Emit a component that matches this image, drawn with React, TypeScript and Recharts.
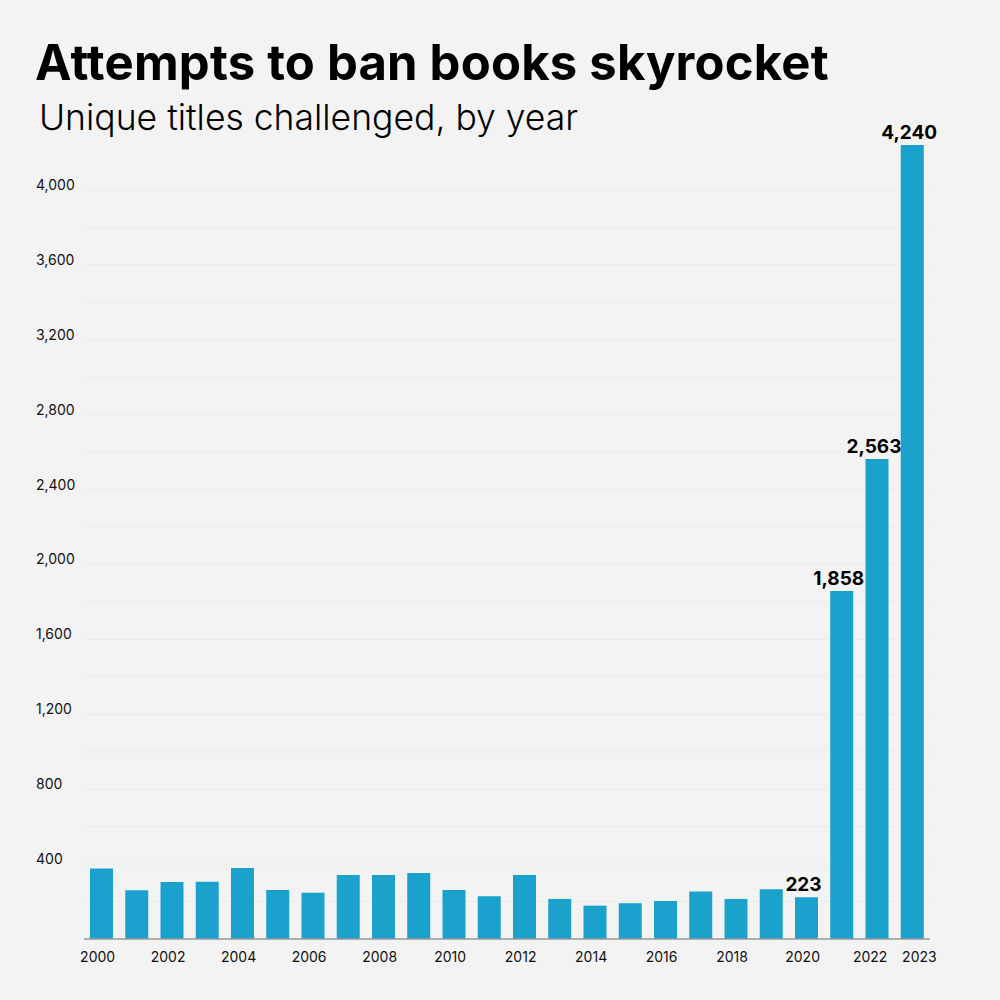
import { BarChart, Bar, XAxis, YAxis, CartesianGrid, LabelList } from 'recharts';

const years = [
  2000, 2001, 2002, 2003, 2004, 2005, 2006, 2007, 2008, 2009, 2010, 2011,
  2012, 2013, 2014, 2015, 2016, 2017, 2018, 2019, 2020, 2021, 2022, 2023,
];
const titles = [
  377, 260, 304, 306, 379, 262, 247, 342, 342, 352, 262, 228,
  342, 214, 178, 191, 203, 253, 214, 265, 223, 1858, 2563, 4240,
];
const labeledYears = [2020, 2021, 2022, 2023];
const xTickYears = [2000, 2002, 2004, 2006, 2008, 2010, 2012, 2014, 2016, 2018, 2020, 2022, 2023];
const yTicks = [
  0, 200, 400, 600, 800, 1000, 1200, 1400, 1600, 1800, 2000, 2200,
  2400, 2600, 2800, 3000, 3200, 3400, 3600, 3800, 4000,
];

const FONT = 'Inter, "Noto Sans", sans-serif';

const data = years.map((year, i) => ({
  year,
  titles: titles[i],
  label: labeledYears.includes(year) ? titles[i] : undefined,
}));

function YTick({ y, payload }: any) {
  const v = payload.value;
  if (v === 0 || v % 400 !== 0) return null;
  return (
    <text x={36} y={y} fontSize={14} fill="#111" fontFamily={FONT}>
      {v.toLocaleString('en-US')}
    </text>
  );
}

function XTick({ x, payload }: any) {
  const v = Number(payload.value);
  if (!xTickYears.includes(v)) return null;
  const shift = v === 2022 ? -7 : v === 2023 ? 7 : -4;
  return (
    <text x={x + shift} y={962} fontSize={14} fill="#111" fontFamily={FONT} textAnchor="middle">
      {v}
    </text>
  );
}

export default function App() {
  return (
    <div
      style={{
        position: 'absolute', left: 0, top: 0, width: 1000, height: 1000,
        background: '#f3f3f3', fontFamily: FONT, overflow: 'hidden',
      }}
    >
      <div style={{ position: 'absolute', left: 35, top: 34, fontSize: 49, fontWeight: 700, color: '#000', letterSpacing: 0.2, lineHeight: 1.2 }}>
        Attempts to ban books skyrocket
      </div>
      <div style={{ position: 'absolute', left: 39, top: 97, fontSize: 35.5, fontWeight: 300, color: '#000', lineHeight: 1.2 }}>
        Unique titles challenged, by year
      </div>
      <div style={{ position: 'absolute', left: 0, top: 0 }}>
        <BarChart
          width={1000}
          height={1000}
          data={data}
          margin={{ top: 115, right: 70, left: 0, bottom: 31 }}
          barCategoryGap="17%"
        >
          <CartesianGrid vertical={false} stroke="#ebebeb" strokeWidth={1} horizontalValues={yTicks} />
          <XAxis
            dataKey="year"
            height={30}
            interval={0}
            tickLine={false}
            axisLine={{ stroke: '#999', strokeWidth: 1.5 }}
            tick={<XTick />}
          />
          <YAxis
            width={84}
            domain={[0, 4400]}
            ticks={yTicks}
            interval={0}
            axisLine={false}
            tickLine={false}
            tick={<YTick />}
          />
          <Bar dataKey="titles" fill="#1aa2cd" isAnimationActive={false}>
            <LabelList
              dataKey="label"
              position="top"
              offset={6}
              formatter={(v: any) => (v == null ? '' : Number(v).toLocaleString('en-US'))}
              style={{ fontSize: 19, fontWeight: 700, fill: '#000', fontFamily: FONT, transform: 'translateX(-3px)' }}
            />
          </Bar>
        </BarChart>
      </div>
    </div>
  );
}
